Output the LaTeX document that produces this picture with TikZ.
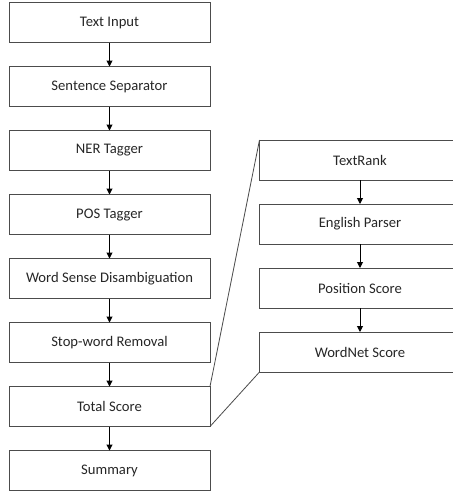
\documentclass[tikz,border=0pt]{standalone}
\usepackage{fontspec}
\setmainfont{Carlito}
\usetikzlibrary{positioning,arrows.meta}

\tikzset{
    stage/.style={draw=black!70, line width=0.7pt, minimum width=6.03cm, minimum height=1.2cm,
        text=black!85, font=\fontsize{12.5}{14}\selectfont, inner sep=0pt, outer sep=0pt},
    flow/.style={-{Triangle[length=5pt,width=5pt]}, line width=0.8pt}
}

\begin{document}
\begin{tikzpicture}[x=0.03cm, y=-0.03cm, node distance=0.72cm]
    % Frame
    \clip (0,0) rectangle (453,494);

    % Main pipeline
    \node[stage] (input) at (109.5,22.5) {Text Input};
    \node[stage, below=of input] (sep) {Sentence Separator};
    \node[stage, below=of sep] (ner) {NER Tagger};
    \node[stage, below=of ner] (pos) {POS Tagger};
    \node[stage, below=of pos] (wsd) {Word Sense Disambiguation};
    \node[stage, below=of wsd] (stop) {Stop-word Removal};
    \node[stage, below=of stop] (total) {Total Score};
    \node[stage, below=of total] (summary) {Summary};

    \draw[flow] (input) -- (sep);
    \draw[flow] (sep) -- (ner);
    \draw[flow] (ner) -- (pos);
    \draw[flow] (pos) -- (wsd);
    \draw[flow] (wsd) -- (stop);
    \draw[flow] (stop) -- (total);
    \draw[flow] (total) -- (summary);

    % Scoring detail
    \node[stage] (rank) at (360,160) {TextRank};
    \node[stage, below=of rank] (parser) {English Parser};
    \node[stage, below=of parser] (position) {Position Score};
    \node[stage, below=of position] (wordnet) {WordNet Score};

    \draw[flow] (rank) -- (parser);
    \draw[flow] (parser) -- (position);
    \draw[flow] (position) -- (wordnet);

    % Zoom lines
    \draw[black!70, line width=0.7pt] (total.north east) -- (rank.north west);
    \draw[black!70, line width=0.7pt] (total.south east) -- (wordnet.south west);
\end{tikzpicture}
\end{document}
